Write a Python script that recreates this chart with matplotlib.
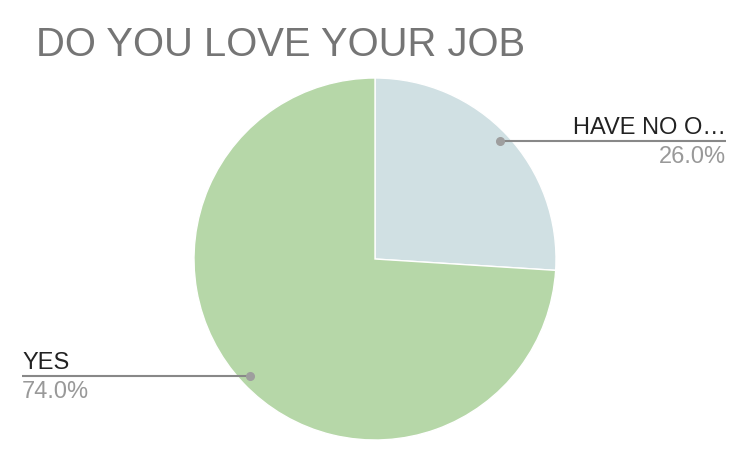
import matplotlib
matplotlib.use("Agg")
import matplotlib.pyplot as plt

labels = ["HAVE NO O…", "YES"]
values = [26.0, 74.0]
colors = ["#d0e0e3", "#b6d7a8"]
title = "DO YOU LOVE YOUR JOB"

plt.rcParams['font.family'] = ['Liberation Sans', 'DejaVu Sans']

W, H = 750, 464
fig = plt.figure(figsize=(7.5, 4.64), dpi=100)
ax = fig.add_axes([0, 0, 1, 1])
ax.set_xlim(0, W)
ax.set_ylim(0, H)
ax.set_aspect('equal')
ax.axis('off')

def Y(y):
    return H - y

ax.pie(values, colors=colors, startangle=90, counterclock=False,
       center=(375, Y(260)), radius=181, frame=True,
       wedgeprops=dict(linewidth=1, edgecolor='white'))
ax.set_xlim(0, W)
ax.set_ylim(0, H)
ax.axis('off')

fig.text(36 / W, Y(56) / H, title, fontsize=28.8, color="#757575",
         ha='left', va='baseline')

# label 1 (right side)
ax.plot([500, 726], [Y(142), Y(142)], color="#888888", lw=1.5, solid_capstyle='butt')
ax.plot([500], [Y(142)], 'o', color="#9e9e9e", ms=5.5)
ax.text(726, Y(134), labels[0], fontsize=17, color="#222222", ha='right', va='baseline')
ax.text(726, Y(163), f"{values[0]:.1f}%", fontsize=17, color="#999999", ha='right', va='baseline')

# label 2 (left side)
ax.plot([22, 250], [Y(377), Y(377)], color="#888888", lw=1.5, solid_capstyle='butt')
ax.plot([250], [Y(377)], 'o', color="#9e9e9e", ms=5.5)
ax.text(22, Y(369), labels[1], fontsize=17, color="#222222", ha='left', va='baseline')
ax.text(22, Y(398), f"{values[1]:.1f}%", fontsize=17, color="#999999", ha='left', va='baseline')

fig.savefig("out.png", dpi=100, facecolor='white')
